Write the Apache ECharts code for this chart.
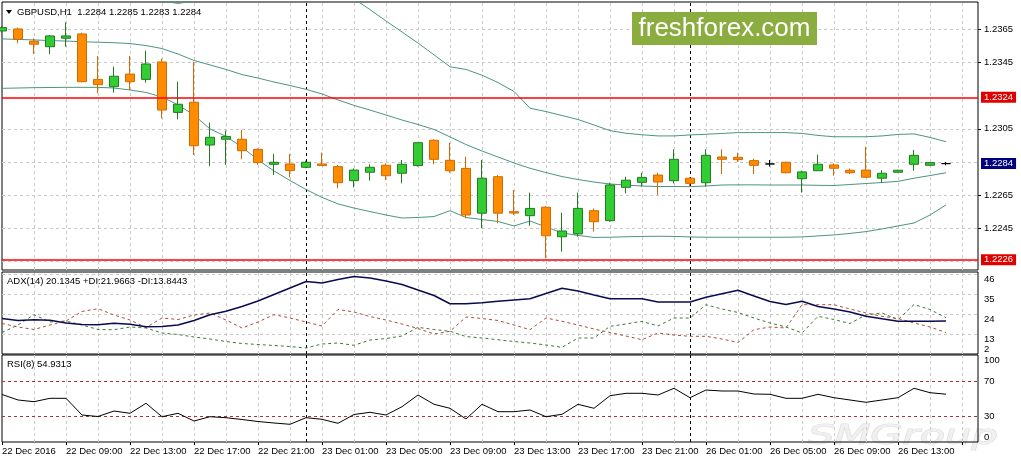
<!DOCTYPE html>
<html>
<head>
<meta charset="utf-8">
<title>GBPUSD,H1</title>
<script src="https://cdn.jsdelivr.net/npm/echarts@6/dist/echarts.min.js"></script>
<style>
  html, body { margin: 0; padding: 0; background: #fff; }
  #chart { width: 1021px; height: 461px; }
</style>
</head>
<body>
<div id="chart"></div>
<script>
// hourly bars, 22 Dec 05:00 .. 26 Dec 16:00 (weekend skipped)
var sessions = [['22 Dec', 5, 23], ['23 Dec', 0, 23], ['26 Dec', 0, 16]];
var firstLabel = '22 Dec 2016';

var opens = [
  1.23640, 1.23652, 1.23578, 1.23545, 1.23596, 1.23622, 1.23348, 1.23304, 1.23380, 1.23348,
  1.23453, 1.23149, 1.23210, 1.22952, 1.22987, 1.22987, 1.22926, 1.22836, 1.22838, 1.22818,
  1.22838, 1.22822, 1.22737, 1.22788, 1.22830, 1.22782, 1.22828, 1.22981, 1.22860, 1.22811,
  1.22541, 1.22761, 1.22550, 1.22526, 1.22577, 1.22399, 1.22416, 1.22556, 1.22496, 1.22697,
  1.22727, 1.22771, 1.22737, 1.22752, 1.22725, 1.22880, 1.22878, 1.22858, 1.22838, 1.22848,
  1.22749, 1.22797, 1.22832, 1.22800, 1.22801, 1.22752, 1.22788, 1.22836, 1.22830, 1.22840
];
var closes = [
  1.23660, 1.23590, 1.23560, 1.23610, 1.23610, 1.23334, 1.23316, 1.23367, 1.23334, 1.23441,
  1.23163, 1.23198, 1.22948, 1.22999, 1.23003, 1.22918, 1.22846, 1.22848, 1.22798, 1.22848,
  1.22828, 1.22725, 1.22801, 1.22818, 1.22767, 1.22836, 1.22966, 1.22866, 1.22797, 1.22530,
  1.22752, 1.22541, 1.22542, 1.22570, 1.22405, 1.22434, 1.22570, 1.22490, 1.22711, 1.22740,
  1.22757, 1.22729, 1.22866, 1.22721, 1.22890, 1.22866, 1.22864, 1.22830, 1.22838, 1.22785,
  1.22790, 1.22836, 1.22812, 1.22785, 1.22758, 1.22782, 1.22800, 1.22890, 1.22846, 1.22840
];
var lows = [
  1.23630, 1.23566, 1.23501, 1.23501, 1.23545, 1.23330, 1.23264, 1.23268, 1.23284, 1.23328,
  1.23113, 1.23107, 1.22892, 1.22826, 1.22832, 1.22866, 1.22832, 1.22771, 1.22757, 1.22812,
  1.22826, 1.22691, 1.22697, 1.22737, 1.22741, 1.22721, 1.22822, 1.22836, 1.22785, 1.22510,
  1.22450, 1.22480, 1.22530, 1.22466, 1.22269, 1.22309, 1.22399, 1.22430, 1.22490, 1.22661,
  1.22701, 1.22651, 1.22721, 1.22701, 1.22701, 1.22777, 1.22850, 1.22777, 1.22822, 1.22781,
  1.22665, 1.22797, 1.22767, 1.22777, 1.22755, 1.22725, 1.22786, 1.22797, 1.22826, 1.22830
];
var highs = [
  1.23670, 1.23660, 1.23596, 1.23616, 1.23692, 1.23630, 1.23489, 1.23425, 1.23489, 1.23521,
  1.23473, 1.23334, 1.23454, 1.23087, 1.23039, 1.23043, 1.22932, 1.22898, 1.22898, 1.22858,
  1.22906, 1.22832, 1.22811, 1.22836, 1.22842, 1.22862, 1.22970, 1.22987, 1.22966, 1.22882,
  1.22862, 1.22771, 1.22681, 1.22665, 1.22584, 1.22544, 1.22665, 1.22570, 1.22725, 1.22761,
  1.22785, 1.22785, 1.22926, 1.22757, 1.22926, 1.22926, 1.22906, 1.22870, 1.22862, 1.22852,
  1.22798, 1.22894, 1.22842, 1.22811, 1.22942, 1.22801, 1.22803, 1.22922, 1.22848, 1.22850
];

// Bollinger bands (upper band runs above the window on the left)
var bbUpper = [
  1.23899, 1.23899, 1.23893, 1.23893, 1.23887, 1.23881, 1.23875, 1.23869, 1.23857, 1.23845,
  1.23821, 1.23806, 1.23821, 1.23845, 1.23863, 1.23881, 1.23899, 1.23911, 1.23917, 1.23917,
  1.23905, 1.23875, 1.23833, 1.23769, 1.23700, 1.23634, 1.23567, 1.23496, 1.23424, 1.23408,
  1.23373, 1.23329, 1.23275, 1.23174, 1.23154, 1.23130, 1.23106, 1.23073, 1.23039, 1.23023,
  1.23014, 1.23007, 1.23007, 1.23013, 1.23017, 1.23022, 1.23027, 1.23027, 1.23027, 1.23027,
  1.23022, 1.23010, 1.23002, 1.23002, 1.23002, 1.23007, 1.23016, 1.23019, 1.22998, 1.22972
];
var bbMiddle = [
  1.23592, 1.23589, 1.23586, 1.23582, 1.23579, 1.23575, 1.23572, 1.23569, 1.23564, 1.23552,
  1.23534, 1.23501, 1.23462, 1.23435, 1.23408, 1.23377, 1.23356, 1.23332, 1.23311, 1.23288,
  1.23260, 1.23224, 1.23191, 1.23163, 1.23133, 1.23103, 1.23076, 1.23046, 1.23001, 1.22955,
  1.22916, 1.22880, 1.22844, 1.22812, 1.22786, 1.22762, 1.22744, 1.22729, 1.22717, 1.22711,
  1.22705, 1.22702, 1.22702, 1.22701, 1.22705, 1.22711, 1.22712, 1.22712, 1.22711, 1.22711,
  1.22711, 1.22709, 1.22708, 1.22714, 1.22720, 1.22726, 1.22733, 1.22752, 1.22768, 1.22785
];
var bbLower = [
  1.23294, 1.23296, 1.23298, 1.23299, 1.23300, 1.23300, 1.23300, 1.23296, 1.23284, 1.23269,
  1.23242, 1.23194, 1.23133, 1.23049, 1.23004, 1.22940, 1.22862, 1.22796, 1.22738, 1.22684,
  1.22636, 1.22597, 1.22572, 1.22551, 1.22530, 1.22512, 1.22515, 1.22521, 1.22556, 1.22515,
  1.22503, 1.22491, 1.22464, 1.22494, 1.22458, 1.22422, 1.22407, 1.22395, 1.22396, 1.22399,
  1.22401, 1.22402, 1.22401, 1.22398, 1.22396, 1.22396, 1.22396, 1.22396, 1.22396, 1.22396,
  1.22398, 1.22404, 1.22410, 1.22419, 1.22430, 1.22446, 1.22464, 1.22482, 1.22530, 1.22591
];

var adx = [
  21.52, 20.42, 20.86, 20.53, 19.05, 18.22, 18.11, 18.88, 18.39, 17.01,
  17.12, 17.95, 20.42, 23.61, 25.48, 28.12, 31.15, 34.72, 38.30, 41.88,
  41.05, 42.98, 44.63, 43.80, 42.15, 40.23, 37.20, 34.17, 29.66, 29.66,
  30.21, 30.98, 31.70, 32.41, 35.28, 38.14, 36.65, 34.45, 32.41, 32.41,
  32.41, 30.60, 30.60, 30.60, 33.18, 35.17, 37.04, 33.90, 30.87, 29.22,
  30.98, 28.12, 26.75, 25.10, 22.79, 21.36, 19.98, 19.98, 19.98, 20.1345
];
var plusDI = [
  13.82, 17.95, 23.61, 19.60, 20.15, 17.95, 15.47, 15.36, 16.85, 16.30,
  13.55, 12.72, 11.35, 10.25, 8.87, 7.77, 7.22, 6.67, 6.12, 5.30,
  7.50, 8.05, 6.78, 9.70, 10.52, 11.90, 16.68, 15.47, 14.48, 11.62,
  10.80, 9.86, 8.87, 8.05, 6.95, 5.68, 10.80, 10.80, 17.23, 18.50,
  19.98, 17.40, 21.80, 21.80, 29.11, 26.75, 24.82, 21.80, 19.05, 16.85,
  13.55, 22.73, 20.97, 18.77, 23.61, 24.55, 20.86, 29.22, 26.47, 21.9663
];
var minusDI = [
  18.77, 16.85, 15.47, 17.95, 20.15, 25.37, 26.91, 23.45, 20.70, 16.57,
  21.80, 20.97, 23.45, 24.55, 20.70, 16.30, 19.60, 23.61, 21.80, 19.60,
  17.40, 26.47, 25.10, 22.62, 20.70, 18.50, 16.02, 13.00, 14.48, 22.35,
  21.52, 20.42, 17.95, 15.36, 21.80, 19.98, 17.95, 15.75, 13.82, 11.90,
  9.86, 13.55, 12.45, 11.73, 11.73, 10.25, 8.32, 15.36, 16.85, 16.30,
  29.11, 29.11, 29.11, 26.75, 24.55, 22.73, 21.52, 19.05, 16.85, 13.8443
];
var rsi = [
  54.60, 48.28, 46.32, 50.23, 50.23, 31.03, 29.31, 35.63, 32.99, 44.48,
  29.08, 32.99, 24.14, 29.08, 27.93, 25.86, 23.56, 21.84, 20.34, 27.93,
  26.09, 21.49, 31.61, 34.14, 31.03, 40.57, 54.02, 43.33, 38.74, 26.44,
  43.33, 34.83, 34.83, 36.78, 29.08, 31.84, 43.33, 38.74, 53.22, 55.98,
  55.98, 54.02, 61.72, 50.92, 59.77, 58.62, 58.62, 55.17, 54.83, 50.23,
  50.23, 54.83, 50.92, 48.28, 45.63, 48.28, 50.92, 61.72, 56.67, 54.9313
];

var priceTicks = [1.2245, 1.2265, 1.2305, 1.2345, 1.2365];
var priceGrid = [1.2225, 1.2245, 1.2265, 1.2285, 1.2305, 1.2345, 1.2365];
var redLevels = [1.2226, 1.2324];
var bidPrice = 1.2284;
var adxTicks = [2, 13, 24, 35, 46];
var adxGrid = [13, 24, 35, 46];
var rsiTicks = [0, 30, 70, 100];
var rsiLevels = [30, 70];
var daySeparators = ['23 Dec 00:00', '26 Dec 00:00'];

var FONT = '"Liberation Sans", Arial, sans-serif';
var LEVEL_RED = '#ff0000';

var categories = [];
sessions.forEach(function (s) {
  for (var h = s[1]; h <= s[2]; h++) {
    categories.push(s[0] + ' ' + (h < 10 ? '0' : '') + h + ':00');
  }
});
categories.push(' ', '  '); // empty room right of the last bar

// vertical grid every second bar
var gridCols = categories.filter(function (c, i) { return i > 0 && i % 2 === 0; });

var candles = opens.map(function (o, i) {
  var item = { value: [o, closes[i], lows[i], highs[i]] };
  if (o === closes[i]) item.itemStyle = { color: '#000', borderColor: '#000' };
  return item;
});

var gridLine = { color: '#c8c8c8', type: [3, 3], width: 1 };
var sepLine = { color: '#000', type: [3, 3], width: 1 };

function hLines(levels, style) {
  return levels.map(function (v) { return { yAxis: v, lineStyle: style, label: { show: false } }; });
}
function vLines(names, style) {
  return names.map(function (d) { return { xAxis: d, lineStyle: style, label: { show: false } }; });
}
function gridMarks(levels, levelStyle) {
  return vLines(gridCols, gridLine).concat(hLines(levels, levelStyle || gridLine), vLines(daySeparators, sepLine));
}
function boxLabel(bg) {
  return {
    show: true, position: 'end', distance: 3,
    formatter: function (p) { return p.value.toFixed(4); },
    color: '#fff', backgroundColor: bg, padding: [1, 3, 0, 3],
    fontSize: 9.5, fontFamily: FONT
  };
}
function priceMark(levels, lineColor, boxColor, width) {
  return {
    silent: true, symbol: ['none', 'none'], precision: 5, animation: false, z: 6,
    data: levels.map(function (v) {
      return {
        yAxis: v,
        lineStyle: { color: lineColor, width: width, type: 'solid', opacity: 1 },
        label: boxLabel(boxColor)
      };
    })
  };
}
function lineSeries(data, x, color, width, type, z, markData) {
  var s = {
    type: 'line', xAxisIndex: x, yAxisIndex: x, data: data,
    symbol: 'none', z: z,
    lineStyle: { color: color, width: width, type: type },
    emphasis: { disabled: true }
  };
  if (markData) {
    s.markLine = { silent: true, symbol: ['none', 'none'], precision: 5, z: 1, animation: false, data: markData };
  }
  return s;
}

var last = opens.length - 1;
var header = 'GBPUSD,H1  ' + [opens[last], highs[last], lows[last], closes[last]]
  .map(function (v) { return v.toFixed(4); }).join(' ');
var adxTitle = 'ADX(14) ' + adx[last].toFixed(4) + ' +DI:' + plusDI[last].toFixed(4) +
  ' -DI:' + minusDI[last].toFixed(4);
var rsiTitle = 'RSI(8) ' + rsi[last].toFixed(4);

var chart = echarts.init(document.getElementById('chart'));

var gridBase = { left: 2, right: 43, show: true, borderColor: '#000', borderWidth: 1,
  backgroundColor: 'transparent', outerBoundsMode: 'none' };

var upperSeries = lineSeries(bbUpper, 0, '#4c9484', 1, 'solid', 2);
upperSeries.markLine = priceMark(redLevels, LEVEL_RED, '#e00000', 1.5);
var lowerSeries = lineSeries(bbLower, 0, '#4c9484', 1, 'solid', 2);
lowerSeries.markLine = priceMark([bidPrice], 'rgba(0,0,0,0)', '#000080', 1);

var option = {
  animation: false,
  backgroundColor: '#fff',
  textStyle: { fontFamily: FONT },
  grid: [
    Object.assign({ top: 2, height: 268 }, gridBase),
    Object.assign({ top: 272, height: 82 }, gridBase),
    Object.assign({ top: 355, height: 87 }, gridBase)
  ],
  xAxis: [0, 1, 2].map(function (g) {
    return {
      type: 'category', gridIndex: g, data: categories, boundaryGap: false,
      axisLine: { show: false },
      axisTick: { show: g === 2, interval: 3, length: 3, lineStyle: { color: '#000' } },
      axisLabel: {
        show: g === 2, interval: 3, align: 'left', margin: 4,
        color: '#000', fontSize: 9.5, fontFamily: FONT,
        formatter: function (v, i) { return i === 0 ? firstLabel : v; }
      },
      splitLine: { show: false }
    };
  }),
  yAxis: [
    {
      type: 'value', gridIndex: 0, position: 'right', min: 1.221985, max: 1.238146, scale: true,
      splitLine: { show: false }, axisLine: { show: false },
      axisTick: { show: true, customValues: priceTicks, length: 3, lineStyle: { color: '#000' } },
      axisLabel: { customValues: priceTicks, margin: 6, color: '#000', fontSize: 9.5, fontFamily: FONT,
        formatter: function (v) { return v.toFixed(4); } }
    },
    {
      type: 'value', gridIndex: 1, position: 'right', min: 2, max: 47.1,
      splitLine: { show: false }, axisLine: { show: false },
      axisTick: { show: false },
      axisLabel: { customValues: adxTicks, margin: 6, color: '#000', fontSize: 9.5, fontFamily: FONT,
        verticalAlign: 'top', verticalAlignMinLabel: 'bottom' }
    },
    {
      type: 'value', gridIndex: 2, position: 'right', min: 0, max: 100,
      splitLine: { show: false }, axisLine: { show: false },
      axisTick: { show: false },
      axisLabel: { customValues: rsiTicks, margin: 6, color: '#000', fontSize: 9.5, fontFamily: FONT,
        verticalAlignMinLabel: 'bottom', verticalAlignMaxLabel: 'top' }
    }
  ],
  series: [
    {
      type: 'candlestick', xAxisIndex: 0, yAxisIndex: 0, data: candles, barWidth: 9, z: 3,
      itemStyle: {
        color: '#32cd32', color0: '#ff8c00',
        borderColor: '#237a23', borderColor0: '#d06a00', borderWidth: 1
      },
      emphasis: { disabled: true }
    },
    upperSeries,
    lineSeries(bbMiddle, 0, '#4c9484', 1, 'solid', 2, gridMarks(priceGrid)),
    lowerSeries,
    lineSeries(plusDI, 1, '#3a7a3a', 1, [3, 3], 2),
    lineSeries(minusDI, 1, '#b04a3a', 1, [3, 3], 2),
    lineSeries(adx, 1, '#0a0a50', 1.5, 'solid', 3, gridMarks(adxGrid)),
    lineSeries(rsi, 2, '#000', 1, 'solid', 3,
      gridMarks(rsiLevels, { color: '#b03030', type: [3, 3], width: 1 }))
  ],
  graphic: [
    { type: 'text', x: 808, y: 437, scaleX: 1.6, z: -1, silent: true,
      style: { text: 'SMGroup', font: 'italic 26px "DejaVu Sans"', fill: '#f0f0f0',
        stroke: '#dedede', lineWidth: 1, verticalAlign: 'middle' } },
    { type: 'polygon', z: 100, shape: { points: [[6, 10], [12, 10], [9, 14]] }, style: { fill: '#000' } },
    { type: 'text', x: 17, y: 12, z: 100,
      style: { text: header, font: '9.5px ' + FONT, fill: '#000', verticalAlign: 'middle' } },
    { type: 'text', x: 7, y: 281, z: 100,
      style: { text: adxTitle, font: '9.5px ' + FONT, fill: '#000', verticalAlign: 'middle' } },
    { type: 'text', x: 7, y: 364, z: 100,
      style: { text: rsiTitle, font: '9.5px ' + FONT, fill: '#000', verticalAlign: 'middle' } },
    { type: 'rect', z: 100, shape: { x: 632, y: 12, width: 185, height: 33 }, style: { fill: '#8bac3f' } },
    { type: 'text', x: 724.5, y: 29, z: 101,
      style: { text: 'freshforex.com', font: '26px ' + FONT, fill: '#fff', align: 'center', verticalAlign: 'middle' } }
  ]
};

chart.setOption(option);
</script>
</body>
</html>
